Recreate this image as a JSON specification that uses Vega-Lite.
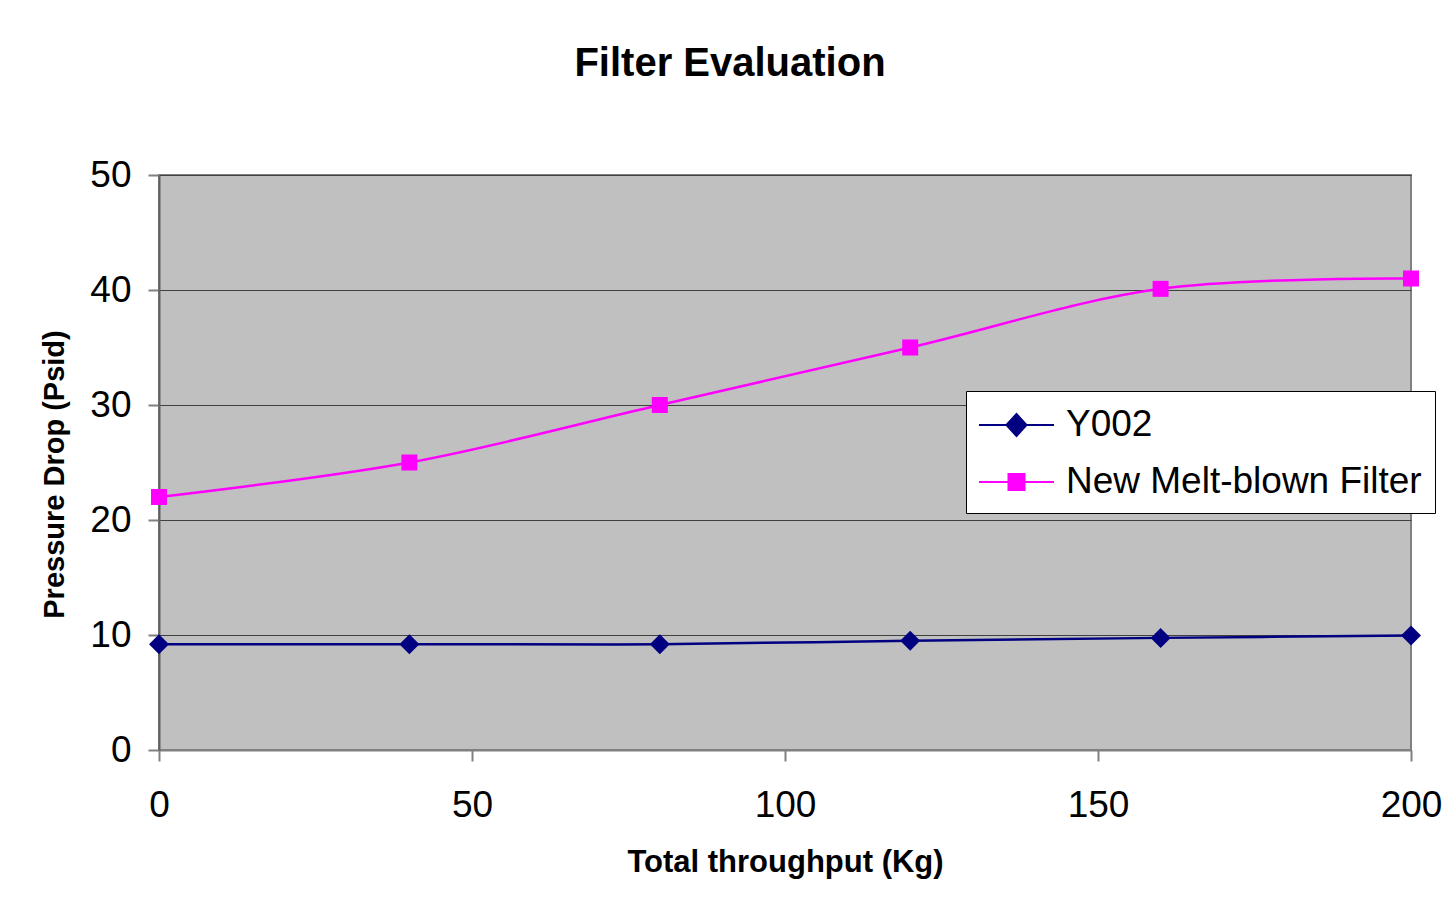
{
  "$schema": "https://vega.github.io/schema/vega-lite/v6.json",
  "width": 1252,
  "height": 575,
  "autosize": {"type": "none"},
  "padding": {"left": 159, "top": 175, "right": 33, "bottom": 159},
  "background": "white",
  "title": {"text": "Filter Evaluation", "fontSize": 40, "font": "Liberation Sans", "fontWeight": "bold", "anchor": "middle", "dx": -55, "offset": 72, "color": "black"},
  "config": {
    "view": {"fill": "#C0C0C0", "stroke": "#808080", "strokeWidth": 2},
    "font": "Liberation Sans"
  },
  "data": {"values": [
    {"series": "Y002", "throughput": 0, "pressure": 9.2},
    {"series": "Y002", "throughput": 40, "pressure": 9.2},
    {"series": "Y002", "throughput": 80, "pressure": 9.2},
    {"series": "Y002", "throughput": 120, "pressure": 9.5},
    {"series": "Y002", "throughput": 160, "pressure": 9.75},
    {"series": "Y002", "throughput": 200, "pressure": 9.95},
    {"series": "New Melt-blown Filter", "throughput": 0, "pressure": 22},
    {"series": "New Melt-blown Filter", "throughput": 40, "pressure": 25},
    {"series": "New Melt-blown Filter", "throughput": 80, "pressure": 30},
    {"series": "New Melt-blown Filter", "throughput": 120, "pressure": 35},
    {"series": "New Melt-blown Filter", "throughput": 160, "pressure": 40.1},
    {"series": "New Melt-blown Filter", "throughput": 200, "pressure": 41}
  ]},
  "encoding": {
    "x": {
      "field": "throughput", "type": "quantitative",
      "scale": {"domain": [0, 200], "nice": false},
      "axis": {
        "values": [0, 50, 100, 150, 200],
        "title": "Total throughput (Kg)", "titleFontSize": 31, "titleFontWeight": "bold", "titleColor": "black", "titlePadding": 24,
        "labelFontSize": 37, "labelColor": "black", "labelPadding": 26, "labelFlush": false, "labelOverlap": false,
        "tickSize": 11, "tickColor": "#808080", "tickWidth": 2,
        "domainColor": "#808080", "domainWidth": 2, "grid": false
      }
    },
    "y": {
      "field": "pressure", "type": "quantitative",
      "scale": {"domain": [0, 50], "nice": false},
      "axis": {
        "values": [0, 10, 20, 30, 40, 50],
        "title": "Pressure Drop (Psid)", "titleFontSize": 29, "titleFontWeight": "bold", "titleColor": "black", "titlePadding": 20, "titleY": 299,
        "labelFontSize": 37, "labelColor": "black", "labelPadding": 17,
        "tickSize": 11, "tickColor": "#808080", "tickWidth": 2,
        "domainColor": "#606060", "domainWidth": 2,
        "grid": true, "gridColor": "#404040", "gridWidth": 1
      }
    }
  },
  "layer": [
    {
      "mark": {"type": "line", "interpolate": "catmull-rom", "strokeWidth": 2.5},
      "encoding": {
        "stroke": {
          "field": "series", "type": "nominal",
          "scale": {"domain": ["Y002", "New Melt-blown Filter"], "range": ["#000080", "#FF00FF"]},
          "legend": {
            "orient": "none", "legendX": 807, "legendY": 216, "title": null,
            "symbolSize": 1600, "symbolStrokeWidth": 2, "symbolOffset": 16.5,
            "labelFontSize": 37, "labelFont": "Liberation Sans", "labelColor": "black", "labelLimit": 600,
            "fillColor": "white", "strokeColor": "black", "padding": 13, "rowPadding": 18, "labelOffset": 28.5
          }
        }
      }
    },
    {
      "transform": [{"filter": "datum.series === 'Y002'"}],
      "mark": {"type": "point", "filled": true, "opacity": 1, "shape": "diamond", "size": 400, "color": "#000080"}
    },
    {
      "transform": [{"filter": "datum.series === 'New Melt-blown Filter'"}],
      "mark": {"type": "point", "filled": true, "opacity": 1, "shape": "square", "size": 256, "color": "#FF00FF"}
    },
    {
      "transform": [{"filter": "false"}],
      "mark": {"type": "point", "opacity": 1, "strokeWidth": 2},
      "encoding": {
        "fill": {
          "field": "series", "type": "nominal",
          "scale": {"domain": ["Y002", "New Melt-blown Filter"], "range": ["#000080", "#FF00FF"]},
          "legend": {
            "orient": "none", "legendX": 807, "legendY": 216, "title": null,
            "symbolSize": 1600, "symbolStrokeWidth": 2, "symbolOffset": 16.5,
            "labelFontSize": 37, "labelFont": "Liberation Sans", "labelColor": "black", "labelLimit": 600,
            "fillColor": "white", "strokeColor": "black", "padding": 13, "rowPadding": 18, "labelOffset": 28.5
          }
        },
        "shape": {
          "field": "series", "type": "nominal",
          "scale": {"domain": ["Y002", "New Melt-blown Filter"], "range": ["M-1.875,0L1.875,0M-0.5,0L0,-0.55L0.5,0L0,0.55Z", "M-1.875,0L1.875,0M-0.4,-0.4L0.4,-0.4L0.4,0.4L-0.4,0.4Z"]},
          "legend": {
            "orient": "none", "legendX": 807, "legendY": 216, "title": null,
            "symbolSize": 1600, "symbolStrokeWidth": 2, "symbolOffset": 16.5,
            "labelFontSize": 37, "labelFont": "Liberation Sans", "labelColor": "black", "labelLimit": 600,
            "fillColor": "white", "strokeColor": "black", "padding": 13, "rowPadding": 18, "labelOffset": 28.5
          }
        }
      }
    }
  ]
}
